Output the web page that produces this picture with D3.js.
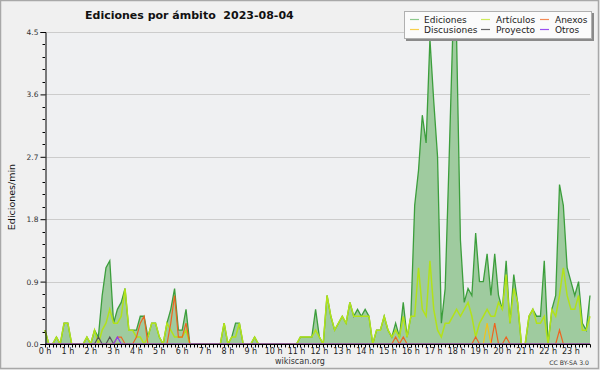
<!DOCTYPE html>
<html><head><meta charset="utf-8">
<script src="https://cdn.jsdelivr.net/npm/d3@7"></script>
<style>
html,body{margin:0;padding:0;background:#f0f0f0;}
svg{display:block;font-family:"DejaVu Sans",sans-serif;}
</style></head>
<body>
<svg id="c" width="600" height="370"></svg>
<script>
const title = "Ediciones por ámbito  2023-08-04";
const yLabel = "Ediciones/min";
const hourLabels = d3.range(24).map(h => h + " h");
const yTickValues = [0, 0.9, 1.8, 2.7, 3.6, 4.5];
const seriesNames = ["Ediciones", "Artículos", "Anexos", "Discusiones", "Proyecto", "Otros"];

// values every 10 minutes (144 points), edits per minute
const ediciones = [
 0.2,0,0,0.1,0,0.3, 0.3,0,0,0,0,0.1,
 0,0.2,0.1,0.7,1.1,1.2, 0.3,0.5,0.6,0.8,0.2,0.2,
 0.2,0.4,0.4,0.1,0.3,0.3, 0.1,0,0.3,0.5,0.8,0.2,
 0.2,0.5,0,0,0,0, 0,0,0,0,0,0.3,
 0,0.1,0.3,0.3,0,0, 0,0.1,0,0,0,0,
 0,0,0,0,0,0, 0,0.1,0.1,0.1,0.1,0.5,
 0.1,0,0.7,0.4,0.2,0.3, 0.4,0.3,0.6,0.4,0.5,0.4,
 0.5,0.4,0,0.2,0.2,0.4, 0.2,0.1,0.3,0.1,0.6,0.1,
 0.4,2.0,2.5,3.3,2.9,4.4, 3.5,2.7,0.3,0.8,2.6,4.5,
 4.4,1.5,0.6,0.8,0.7,1.6, 0.9,0.9,1.3,0.7,1.3,0.7,
 0.5,1.2,0.3,1.0,0.6,0, 0,0.4,0.5,0.4,0.4,1.2,
 0,0.5,0.7,2.3,2.0,1.1, 0.9,0.7,0.9,0.3,0.2,0.7
];
const articulos = [
 0.2,0,0,0.1,0,0.3, 0.3,0,0,0,0,0.1,
 0,0.2,0,0.2,0.3,0.5, 0.3,0.3,0.4,0.8,0.2,0.2,
 0.1,0.1,0,0.1,0.3,0.3, 0.1,0,0.3,0.2,0.1,0.1,
 0.1,0.2,0,0,0,0, 0,0,0,0,0,0.3,
 0,0.1,0.1,0.3,0,0, 0,0.1,0,0,0,0,
 0,0,0,0,0,0, 0,0.1,0.1,0.1,0.1,0.2,
 0.1,0,0.7,0.4,0.2,0.3, 0.4,0.3,0.6,0.4,0.4,0.4,
 0.4,0.4,0,0.2,0.2,0.4, 0.2,0.1,0.2,0.1,0.4,0.1,
 0.4,0.4,1.1,0.5,0.4,1.2, 0.5,0.2,0.1,0.3,0.3,0.4,
 0.5,0.4,0.5,0.6,0.4,0.1, 0.3,0.4,0.5,0.4,0.4,0.6,
 0.5,1.0,0.3,0.8,0.6,0, 0,0.4,0.5,0.3,0.3,0.4,
 0,0.5,0.4,0.7,1.1,0.7, 0.5,0.5,0.7,0.2,0.2,0.4
];
const anexos = [
 0,0,0,0,0,0, 0,0,0,0,0,0,
 0,0,0,0,0,0, 0,0.1,0.1,0,0,0,
 0.1,0.3,0.4,0,0,0, 0,0,0,0.3,0.7,0.1,
 0.1,0.3,0,0,0,0, 0,0,0,0,0,0,
 0,0,0,0,0,0, 0,0,0,0,0,0,
 0,0,0,0,0,0, 0,0,0,0,0,0,
 0,0,0,0,0,0, 0,0,0,0,0,0,
 0,0,0,0,0,0, 0,0,0.1,0,0.1,0,
 0,0,0,0,0,0, 0,0,0,0,0,0,
 0,0,0,0,0,0.1, 0,0,0,0,0.3,0,
 0,0.1,0,0,0,0, 0,0,0,0,0,0,
 0,0,0,0.2,0,0, 0,0,0,0,0,0
];
const discusiones = [
 0,0,0,0,0,0, 0,0,0,0,0,0,
 0,0,0,0,0,0, 0,0,0,0,0,0,
 0,0,0,0,0,0, 0,0,0,0,0,0,
 0,0,0,0,0,0, 0,0,0,0,0,0,
 0,0,0,0,0,0, 0,0,0,0,0,0,
 0,0,0,0,0,0, 0,0,0,0,0,0,
 0,0,0,0,0,0, 0,0,0,0,0,0,
 0,0,0,0,0,0, 0,0,0,0,0,0,
 0,0,0,0,0,0, 0,0,0,0,0,0,
 0,0,0,0,0,0, 0,0,0.3,0,0,0,
 0,0,0,0,0,0, 0,0,0,0,0,0,
 0,0,0,0,0,0, 0,0,0,0,0,0
];
const proyecto = [
 0,0,0,0,0,0, 0,0,0,0,0,0,
 0,0,0.1,0,0,0.1, 0,0,0,0,0,0,
 0,0,0,0,0,0, 0,0,0,0,0,0,
 0,0,0,0,0,0, 0,0,0,0,0,0,
 0,0,0,0,0,0, 0,0,0,0,0,0,
 0,0,0,0,0,0, 0,0,0,0,0,0,
 0,0,0,0,0,0, 0,0,0,0,0,0,
 0,0,0,0,0,0, 0,0,0,0,0,0,
 0,0,0,0,0,0, 0,0,0,0,0,0,
 0,0,0,0,0,0, 0,0,0,0,0,0,
 0,0,0,0,0,0, 0,0,0,0,0,0,
 0,0,0,0,0,0, 0,0,0,0,0,0
];
const otros = [
 0,0,0,0,0,0, 0,0,0,0,0,0,
 0,0,0,0,0,0, 0,0.1,0,0,0,0,
 0,0,0,0,0,0, 0,0,0,0,0,0,
 0,0,0,0,0,0, 0,0,0,0,0,0,
 0,0,0,0,0,0, 0,0,0,0,0,0,
 0,0,0,0,0,0, 0,0,0,0,0,0,
 0,0,0,0,0,0, 0,0,0,0,0,0,
 0,0,0,0,0,0, 0,0,0,0,0,0,
 0,0,0,0,0,0, 0,0,0,0,0,0,
 0,0,0,0,0,0, 0,0,0,0,0,0,
 0,0,0,0,0,0, 0,0,0,0,0,0,
 0,0,0,0,0,0, 0,0,0,0,0,0
];

const lineColors = ["#3c9e3c", "#b2e21a", "#ee6420", "#f2c21c", "#555555", "#8a3cf0"];
const legendColors = ["#8cc98c", "#cdea5a", "#f38a55", "#f7cf4c", "#666666", "#9a50f0"];

const svg = d3.select("#c");
const L = 45, R = 590, T = 32, B = 344;
const n = ediciones.length;
const x = d3.scaleLinear().domain([0, n - 1]).range([L, R]);
const y = d3.scaleLinear().domain([0, 4.5]).range([B, T]);

// frame
svg.append("rect").attr("x", 0.5).attr("y", 0.5).attr("width", 598).attr("height", 368)
  .attr("fill", "#f0f0f0").attr("stroke", "#a8a8a8").attr("stroke-width", 1.5);
svg.append("rect").attr("x", L).attr("y", T).attr("width", R - L).attr("height", B - T)
  .attr("fill", "#eff0f2");

// grid
svg.append("g").selectAll("line").data(yTickValues.slice(1)).join("line")
  .attr("x1", L).attr("x2", R).attr("y1", d => Math.round(y(d)) + 0.5).attr("y2", d => Math.round(y(d)) + 0.5)
  .attr("stroke", "#cccccc").attr("stroke-width", 1);

// series
const series = [ediciones, articulos, anexos, discusiones, proyecto, otros];
const area = d3.area().x((d, i) => x(i)).y0(y(0)).y1(d => y(d));
const line = d3.line().x((d, i) => x(i)).y(d => y(d));
svg.append("path").datum(ediciones).attr("d", area).attr("fill", "#9fcb9f");
svg.append("path").datum(ediciones).attr("d", line).attr("fill", "none")
  .attr("stroke", lineColors[0]).attr("stroke-width", 1.3);
[1, 2, 3, 4, 5].forEach(k => {
  svg.append("path").datum(series[k]).attr("d", line).attr("fill", "none")
    .attr("stroke", lineColors[k]).attr("stroke-width", k === 1 ? 1.5 : 1.2);
});

// y axis
const yAxis = d3.axisLeft(y).tickValues(yTickValues).tickFormat(d3.format(".1f")).tickSize(5).tickPadding(2);
const gy = svg.append("g").attr("transform", `translate(${L + 0.5},0)`).call(yAxis);
gy.select(".domain").attr("stroke", "#000");
gy.selectAll(".tick line").attr("stroke", "#000");
gy.selectAll("text").attr("font-size", 7.5).attr("fill", "#333").attr("font-family", "DejaVu Sans");
const minorY = d3.range(0, 4.5001, 0.18).filter(v => !yTickValues.some(t => Math.abs(t - v) < 1e-6));
svg.append("g").selectAll("line").data(minorY).join("line")
  .attr("x1", L - 2.5).attr("x2", L).attr("y1", d => Math.round(y(d)) + 0.5).attr("y2", d => Math.round(y(d)) + 0.5)
  .attr("stroke", "#000");

// x axis
const gx = svg.append("g").attr("transform", `translate(0,${B + 0.5})`);
gx.append("line").attr("x1", L).attr("x2", R + 0.5).attr("y1", 0).attr("y2", 0).attr("stroke", "#000");
gx.selectAll("line.t").data(d3.range(n)).join("line").attr("class", "t")
  .attr("x1", d => Math.round(x(d)) + 0.5).attr("x2", d => Math.round(x(d)) + 0.5)
  .attr("y1", 0).attr("y2", 3).attr("stroke", "#000");
gx.selectAll("text").data(hourLabels).join("text")
  .attr("x", (d, i) => x(i * 6)).attr("y", 9.5).attr("text-anchor", "middle")
  .attr("font-size", 8).attr("fill", "#222").text(d => d);

// y label
svg.append("text").attr("transform", "translate(15,197) rotate(-90)").attr("text-anchor", "middle")
  .attr("font-size", 9.5).attr("fill", "#111").text(yLabel);

// title
svg.append("text").attr("x", 85).attr("y", 19).attr("font-size", 11).attr("font-weight", "bold")
  .attr("fill", "#111").attr("xml:space", "preserve").style("white-space", "pre").text(title);

// legend
const lg = svg.append("g");
lg.append("rect").attr("x", 406).attr("y", 13).attr("width", 188).attr("height", 28).attr("fill", "#8a8a8a");
lg.append("rect").attr("x", 404.5).attr("y", 11.5).attr("width", 187).attr("height", 27)
  .attr("fill", "#fbfbfb").attr("stroke", "#b0b0b0");
const colX = [410, 481, 540];
const textX = [424, 496, 555];
const rowY = [19.5, 29.5];
const order = [[0, 1, 2], [3, 4, 5]];
order.forEach((row, r) => row.forEach((k, c) => {
  lg.append("line").attr("x1", colX[c]).attr("x2", colX[c] + 9).attr("y1", rowY[r]).attr("y2", rowY[r])
    .attr("stroke", legendColors[k]).attr("stroke-width", 1.2);
  lg.append("text").attr("x", textX[c]).attr("y", rowY[r] + 3.3).attr("font-size", 9)
    .attr("fill", "#222").text(seriesNames[k]);
}));

// footer
svg.append("text").attr("x", 300).attr("y", 364).attr("text-anchor", "middle").attr("font-size", 8)
  .attr("fill", "#333").text("wikiscan.org");
svg.append("text").attr("x", 589).attr("y", 365).attr("text-anchor", "end").attr("font-size", 6.2)
  .attr("fill", "#333").text("CC BY-SA 3.0");
</script>
</body></html>
